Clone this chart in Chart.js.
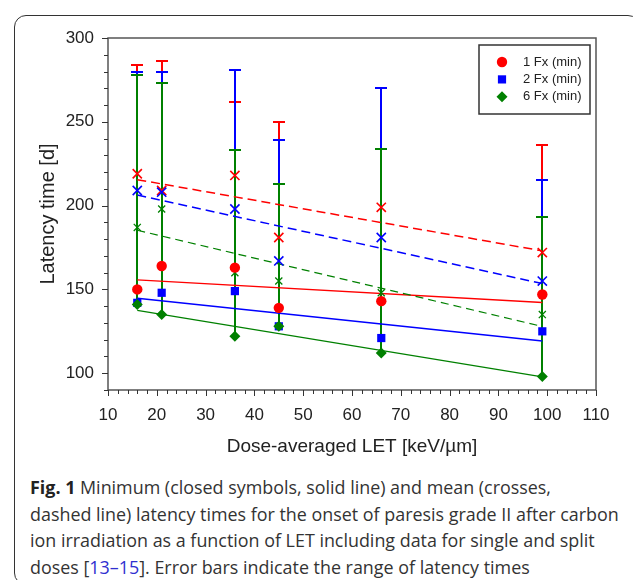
<!DOCTYPE html>
<html>
<head>
<meta charset="utf-8">
<title>Latency time vs LET</title>
<script src="https://cdn.jsdelivr.net/npm/chart.js@4.4.1/dist/chart.umd.min.js"></script>
<style>
  html, body { margin: 0; padding: 0; background: #fff; }
  #fig { position: relative; width: 633px; height: 580px; overflow: hidden; }
  #frame { position: absolute; left: 14px; top: 15px; width: 624px; height: 568px;
           border: 1.5px solid #333; border-radius: 12px; }
  #plot { position: absolute; left: 0; top: 0; width: 633px; height: 470px; }
  #caption { position: absolute; left: 30px; top: 474px; font-family: "Open Sans", "Noto Sans", sans-serif;
             font-size: 17.9px; line-height: 26.6px; color: #333; white-space: nowrap; }
  #caption b { color: #222; }
  #caption .ref { color: #3030d0; }
</style>
</head>
<body>
<div id="fig">
  <div id="frame"></div>
  <canvas id="plot" width="633" height="470"></canvas>
  <div id="caption">
    <b>Fig. 1</b> Minimum (closed symbols, solid line) and mean (crosses,<br>
    dashed line) latency times for the onset of paresis grade II after carbon<br>
    ion irradiation as a function of LET including data for single and split<br>
    doses [<span class="ref">13–15</span>]. Error bars indicate the range of latency times
  </div>
</div>
<script>
// dose-averaged LET of each group [keV/µm]
const letValues = [16, 21, 36, 45, 66, 99];

// minimum latency [d]
const min1Fx = [150, 164, 163, 139, 143, 147];
const min2Fx = [142, 148, 149, 128, 121, 125];
const min6Fx = [141, 135, 122, 128, 112, 98];

// mean latency [d]
const mean1Fx = [219, 209, 218, 181, 199, 172];
const mean2Fx = [209, 208, 198, 167, 181, 155];
const mean6Fx = [187, 198, 160, 155, 148, 135];

// maximum latency [d] (upper end of the error bars)
const max1Fx = [284, 286, 262, 250, 270, 236];
const max2Fx = [280, 280, 281, 239, 270, 215];
const max6Fx = [278, 273, 233, 213, 234, 193];

// fitted lines, value at the first and last LET
const fitX = [16, 99];
const fitMin1Fx = [155.7, 142.2];
const fitMin2Fx = [144.7, 119.2];
const fitMin6Fx = [137.5, 97.8];
const fitMean1Fx = [215.5, 173];
const fitMean2Fx = [206.3, 153.5];
const fitMean6Fx = [185.3, 127.9];

const xMin = 10, xMax = 110, xStep = 2, xLabelEvery = 10;
const yMin = 90, yMax = 300, yStep = 10, yLabelEvery = 50;

const RED = '#ff0000', BLUE = '#0000ff', GREEN = '#008000';
const FONT = '"Liberation Sans", Arial, sans-serif';

const pts = (ys) => letValues.map((x, i) => ({ x: x, y: ys[i] }));
const fit = (ys) => fitX.map((x, i) => ({ x: x, y: ys[i] }));

function fitLine(ys, color, dash, width, order) {
  return { type: 'line', data: fit(ys), borderColor: color, borderWidth: width,
           borderDash: dash, pointRadius: 0, fill: false, order: order, legend: false };
}
function meanSet(label, ys, color, r, w, order) {
  return { type: 'scatter', label: label, data: pts(ys), pointStyle: 'crossRot',
           pointRadius: r, borderColor: color, pointBorderWidth: w, order: order, legend: false };
}
function minSet(label, ys, color, style, r, order) {
  return { type: 'scatter', label: label, data: pts(ys), pointStyle: style, pointRadius: r,
           backgroundColor: color, borderColor: color, pointBorderWidth: 0, order: order, legend: true };
}

const errorSeries = [
  { lo: min1Fx, hi: max1Fx, color: RED },
  { lo: min2Fx, hi: max2Fx, color: BLUE },
  { lo: min6Fx, hi: max6Fx, color: GREEN }
];

// range bars from minimum to maximum, cap on the upper end, under the data sets
const errorBars = {
  id: 'errorBars',
  beforeDatasetsDraw(chart) {
    const { ctx, scales: { x, y } } = chart;
    ctx.save();
    ctx.lineWidth = 2;
    errorSeries.forEach(s => {
      ctx.strokeStyle = s.color;
      letValues.forEach((v, i) => {
        // whole-pixel stems so the bar drawn last hides the ones under it
        const px = Math.round(x.getPixelForValue(v));
        const y1 = Math.round(y.getPixelForValue(s.lo[i]));
        const y2 = Math.round(y.getPixelForValue(s.hi[i]));
        ctx.beginPath();
        ctx.moveTo(px, y1); ctx.lineTo(px, y2);
        ctx.moveTo(px - 6, y2); ctx.lineTo(px + 6, y2);
        ctx.stroke();
      });
    });
    ctx.restore();
  }
};

// box around the plot and outward tick marks
const plotFrame = {
  id: 'plotFrame',
  afterDraw(chart) {
    const { ctx, chartArea: a, scales: { x, y } } = chart;
    ctx.save();
    ctx.strokeStyle = '#555';
    ctx.lineWidth = 1.5;
    ctx.strokeRect(a.left, a.top, a.right - a.left, a.bottom - a.top);
    ctx.strokeStyle = '#333';
    ctx.lineWidth = 1;
    ctx.beginPath();
    x.ticks.forEach(t => {
      const px = Math.round(x.getPixelForValue(t.value)) + 0.5;
      const len = t.value % xLabelEvery === 0 ? 6 : 4;
      ctx.moveTo(px, a.bottom); ctx.lineTo(px, a.bottom + len);
    });
    y.ticks.forEach(t => {
      const py = Math.round(y.getPixelForValue(t.value)) + 0.5;
      const len = t.value % yLabelEvery === 0 ? 6 : 4;
      ctx.moveTo(a.left, py); ctx.lineTo(a.left - len, py);
    });
    ctx.stroke();
    ctx.restore();
  }
};

// legend box in the upper right corner of the plot
const boxLegend = {
  id: 'boxLegend',
  afterDraw(chart) {
    const { ctx, chartArea: a } = chart;
    const items = chart.data.datasets.filter(d => d.legend);
    const right = a.right - 6, top = 45, w = 111, rowH = 17.4;
    const left = right - w, h = 69;
    ctx.save();
    ctx.fillStyle = '#fff';
    ctx.fillRect(left, top, w, h);
    ctx.strokeStyle = '#333';
    ctx.lineWidth = 1.5;
    ctx.strokeRect(left, top, w, h);
    ctx.font = '13px ' + FONT;
    ctx.textBaseline = 'middle';
    items.forEach((d, i) => {
      const cy = top + 17 + i * rowH;
      ctx.fillStyle = d.backgroundColor;
      ctx.strokeStyle = d.borderColor;
      Chart.helpers.drawPoint(ctx, { pointStyle: d.pointStyle, radius: d.pointRadius, rotation: 0, borderWidth: 0 }, left + 23, cy);
      ctx.fillStyle = '#222';
      ctx.fillText(d.label, left + 44, cy);
    });
    ctx.restore();
  }
};

document.addEventListener('DOMContentLoaded', () => {
  const ctx = document.getElementById('plot');
  new Chart(ctx, {
    data: {
      datasets: [
        fitLine(fitMin1Fx, RED, [], 1.5, 22),
        fitLine(fitMin2Fx, BLUE, [], 1.5, 21),
        fitLine(fitMin6Fx, GREEN, [], 1.2, 20),
        fitLine(fitMean1Fx, RED, [9, 5], 1.5, 19),
        fitLine(fitMean2Fx, BLUE, [9, 5], 1.5, 18),
        fitLine(fitMean6Fx, GREEN, [8, 5], 1.2, 17),
        meanSet('1 Fx (mean)', mean1Fx, RED, 6.5, 1.6, 9),
        meanSet('2 Fx (mean)', mean2Fx, BLUE, 6.5, 1.6, 8),
        meanSet('6 Fx (mean)', mean6Fx, GREEN, 5, 1.3, 7),
        minSet('1 Fx (min)', min1Fx, RED, 'circle', 5.2, 3),
        minSet('2 Fx (min)', min2Fx, BLUE, 'rect', 5.8, 2),
        minSet('6 Fx (min)', min6Fx, GREEN, 'rectRot', 5.5, 1)
      ]
    },
    options: {
      responsive: false,
      animation: false,
      layout: { padding: { top: 38, right: 37, left: 0, bottom: 0 } },
      plugins: { legend: { display: false }, tooltip: { enabled: false } },
      scales: {
        x: {
          type: 'linear', min: xMin, max: xMax,
          afterFit: s => { s.height = 80; },
          border: { display: false },
          grid: { drawOnChartArea: false, tickLength: 0, color: 'transparent' },
          ticks: {
            stepSize: xStep, autoSkip: false, maxRotation: 0, padding: 15,
            color: '#222', font: { family: FONT, size: 17 },
            callback: v => (v % xLabelEvery === 0 ? v : '')
          },
          title: { display: true, text: 'Dose-averaged LET [keV/µm]', color: '#222',
                   font: { family: FONT, size: 19 }, padding: { top: 0, bottom: 12 } }
        },
        y: {
          type: 'linear', min: yMin, max: yMax,
          afterFit: s => { s.width = 108; },
          border: { display: false },
          grid: { drawOnChartArea: false, tickLength: 0, color: 'transparent' },
          ticks: {
            stepSize: yStep, autoSkip: false, padding: 14,
            color: '#222', font: { family: FONT, size: 17 },
            callback: v => (v % yLabelEvery === 0 ? v : '')
          },
          title: { display: true, text: 'Latency time [d]', color: '#222',
                   font: { family: FONT, size: 20 }, padding: { top: 36, bottom: 0 } }
        }
      }
    },
    plugins: [errorBars, plotFrame, boxLegend]
  });
});
</script>
</body>
</html>
